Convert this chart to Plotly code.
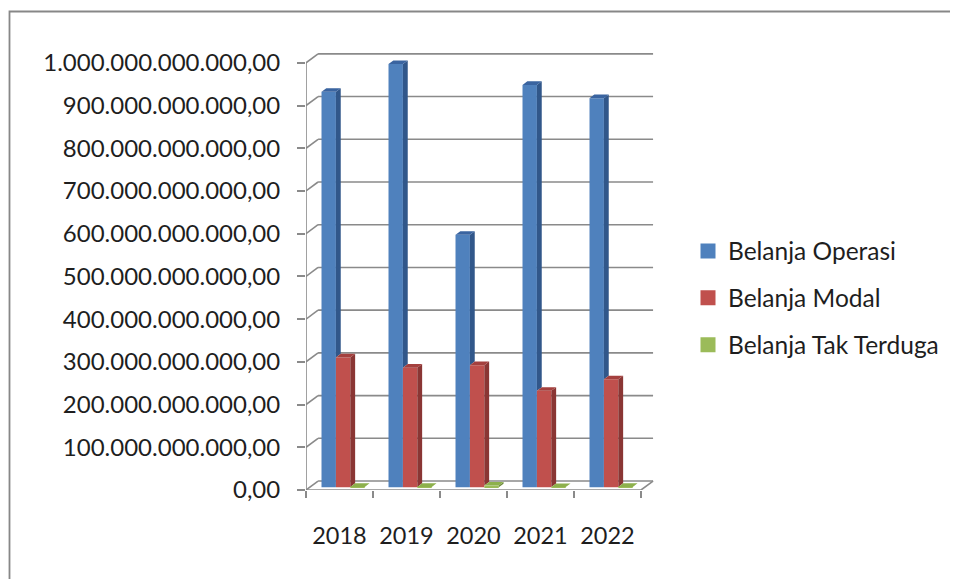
import plotly.graph_objects as go

# ---------------- data ----------------
years = ["2018", "2019", "2020", "2021", "2022"]
series_names = ["Belanja Operasi", "Belanja Modal", "Belanja Tak Terduga"]
belanja_operasi = [926e9, 991e9, 591e9, 942e9, 911e9]
belanja_modal = [304e9, 280e9, 286e9, 226e9, 253e9]
belanja_tak_terduga = [1.0e9, 1.0e9, 4.0e9, 0.5e9, 1.0e9]
y_tick_values = [k * 100e9 for k in range(11)]

# ---------------- style ----------------
front_colors = ["#4F81BD", "#C0504D", "#9BBB59"]
side_colors = ["#31578A", "#8A3634", "#6E8A3C"]
top_colors = ["#3A64A0", "#A4403E", "#8DB04C"]
grid_color = "#8A8A8A"
text_color = "#1E1E1E"
FONT = "Lato"

# page offset compensation (body margin of the html page)
OFF = 8
L = 306 - OFF           # left margin -> front axis position
T = 50 - OFF            # top margin
PW, PH = 350, 440       # plot area size
B = 579 - T - PH        # bottom margin
R = 958 - L - PW        # right margin

# pseudo 3-D geometry (category units / value units)
DX = 0.18      # horizontal depth shift of the back wall
DY = 21e9      # vertical depth shift of the back wall
D0 = 0.3       # depth where bar front faces sit
DD = 0.4       # bar depth
W = 0.215      # bar width
n_cat = len(years)

series = [belanja_operasi, belanja_modal, belanja_tak_terduga]

fig = go.Figure()

# ---- frame: back wall gridlines, connectors, floor, front axis (subplot xy, drawn first)
fx, fy = [], []
for v in y_tick_values:
    fx += [DX, n_cat + DX, None, 0, DX, None]
    fy += [v + DY, v + DY, None, v, v + DY, None]
fx += [0, 0, None, 0, n_cat, None, n_cat, n_cat + DX, None]
fy += [0, y_tick_values[-1], None, 0, 0, None, 0, DY, None]
fig.add_trace(go.Scatter(x=fx, y=fy, mode="lines", line=dict(color=grid_color, width=1.6),
                         hoverinfo="skip", showlegend=False, xaxis="x", yaxis="y"))

# legend entries
for s, name in enumerate(series_names):
    fig.add_trace(go.Scatter(x=[None], y=[None], mode="markers", name=name,
                             marker=dict(symbol="square", size=15, color=front_colors[s]),
                             legendgroup=name, xaxis="x", yaxis="y"))

base = D0 * DY
for s, vals in enumerate(series):
    centers = [i + 0.5 + (s - 1) * W + D0 * DX for i in range(n_cat)]
    # front faces
    fig.add_trace(go.Bar(x=centers, y=vals, base=base, width=W,
                         marker=dict(color=front_colors[s], line=dict(width=0)),
                         name=series_names[s], showlegend=False, hovertemplate="%{y:,.2f}<extra></extra>",
                         xaxis="x2", yaxis="y2"))
    # side faces (visible part, above the next series' bar) and top faces
    sx, sy = [], []
    tx, ty = [], []
    for i, v in enumerate(vals):
        xl = centers[i] - W / 2
        xr = centers[i] + W / 2
        lower = series[s + 1][i] if s + 1 < len(series) else 0
        if v > lower:
            sx += [xr, xr + DD * DX, xr + DD * DX, xr, xr, None]
            sy += [base + lower, base + lower + DD * DY, base + v + DD * DY, base + v, base + lower, None]
        tx += [xl, xr, xr + DD * DX, xl + DD * DX, xl, None]
        ty += [base + v, base + v, base + v + DD * DY, base + v + DD * DY, base + v, None]
    fig.add_trace(go.Scatter(x=sx, y=sy, mode="lines", fill="toself", fillcolor=side_colors[s],
                             line=dict(width=0, color=side_colors[s]), hoverinfo="skip",
                             showlegend=False, xaxis="x2", yaxis="y2"))
    fig.add_trace(go.Scatter(x=tx, y=ty, mode="lines", fill="toself", fillcolor=top_colors[s],
                             line=dict(width=0, color=top_colors[s]), hoverinfo="skip",
                             showlegend=False, xaxis="x2", yaxis="y2"))

x_range = [0, PW / 67]
y_range = [0, 1030e9]


def px_x(px):
    return (px - OFF - L) / PW


def px_y(py):
    return (T + PH - (py - OFF)) / PH


fig.update_layout(
    width=958, height=579,
    margin=dict(l=L, r=R, t=T, b=B, pad=0),
    paper_bgcolor="white", plot_bgcolor="rgba(0,0,0,0)",
    barmode="overlay",
    separators=",.",
    font=dict(family=FONT, size=24, color=text_color),
    xaxis=dict(range=x_range, tickmode="array", tickvals=[i + 0.5 for i in range(n_cat)],
               ticktext=years, ticks="", showgrid=False, zeroline=False, showline=False,
               tickfont=dict(family=FONT, size=23.5, color=text_color), ticklabelstandoff=29,
               minor=dict(tickmode="array", tickvals=list(range(n_cat + 1)), ticks="outside",
                          ticklen=7, tickwidth=1.6, tickcolor=grid_color, showgrid=False)),
    yaxis=dict(range=y_range, tickmode="array", tickvals=y_tick_values, tickformat=",.2f",
               ticks="outside", ticklen=8, tickwidth=1.6, tickcolor=grid_color,
               showgrid=False, zeroline=False, showline=False,
               tickfont=dict(family=FONT, size=24, color=text_color), ticklabelstandoff=12),
    xaxis2=dict(range=x_range, overlaying="x", visible=False),
    yaxis2=dict(range=y_range, overlaying="y", visible=False),
    legend=dict(x=px_x(688), y=px_y(298), xanchor="left", yanchor="middle",
                font=dict(family=FONT, size=24.5, color=text_color), tracegroupgap=12,
                bgcolor="rgba(0,0,0,0)"),
    shapes=[dict(type="rect", xref="paper", yref="paper",
                 x0=px_x(9.5), x1=px_x(990),
                 y0=px_y(620), y1=px_y(11.5),
                 line=dict(color="#878787", width=1.8), layer="below")],
    showlegend=True,
)

fig.write_html("out.html")
